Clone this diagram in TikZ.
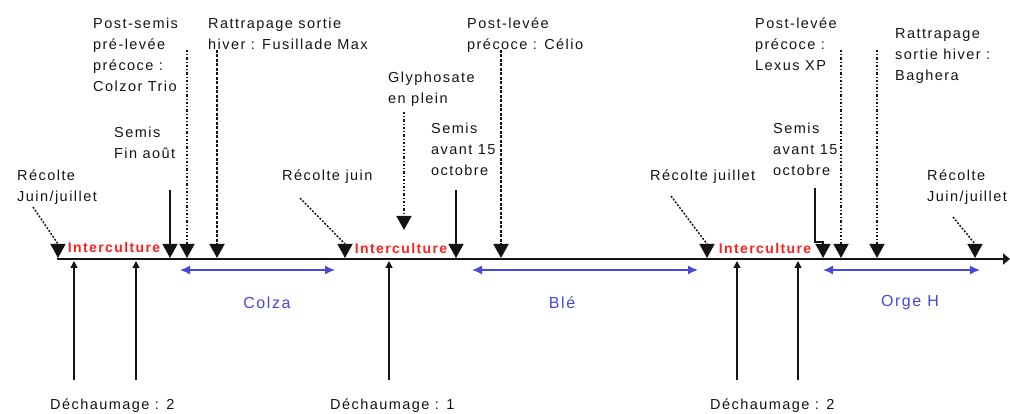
\documentclass[tikz,border=0pt]{standalone}
\usepackage{fontspec}
\setmainfont{Liberation Sans}[LetterSpace=10]
\usetikzlibrary{arrows.meta}
\definecolor{tlc}{HTML}{141414}
\definecolor{cropc}{HTML}{4848D8}
\definecolor{interc}{HTML}{FF2020}
\tikzset{
  lbl/.style={anchor=north west, inner sep=0pt, align=left, text=tlc, font=\fontsize{14.5}{21}\selectfont},
  intertxt/.style={inner sep=0pt, text=interc, font=\fontsize{14}{16}\selectfont\bfseries},
  croptxt/.style={inner sep=0pt, text=cropc, font=\fontsize{16}{18}\selectfont},
  bigtip/.style={-{Triangle[width=15pt,length=14pt]}, draw=tlc},
  solidarr/.style={bigtip, line width=1.5pt},
  dashdiag/.style={bigtip, line width=1.4pt, dash pattern=on 2pt off 1.5pt},
  dotarr/.style={bigtip, line width=1.5pt, dash pattern=on 2.4pt off 2pt on 1pt off 2pt},
  densearr/.style={bigtip, line width=2pt, dash pattern=on 3pt off 1.5pt},
  uparr/.style={-{Triangle[width=7pt,length=7pt]}, draw=tlc, line width=1.4pt},
  croparr/.style={{Latex[width=9pt,length=10pt]}-{Latex[width=9pt,length=10pt]}, draw=cropc, line width=1.5pt},
}
\begin{document}
\begin{tikzpicture}[x=1pt,y=-1pt]
\useasboundingbox (0,0) rectangle (1010,414);

% timeline
\coordinate (t0) at (57,259);
\coordinate (t1) at (1010,259);
\draw[draw=tlc, line width=2.2pt, -{Triangle[width=11pt,length=7pt]}] (t0) -- (t1);

% event points on the timeline
\coordinate (e1) at (58,258);
\coordinate (e2) at (170,258);
\coordinate (e3) at (187,258);
\coordinate (e4) at (217,258);
\coordinate (e5) at (345,258);
\coordinate (e6) at (404,230);
\coordinate (e7) at (456,258);
\coordinate (e8) at (501,258);
\coordinate (e9) at (707,258);
\coordinate (e10) at (823,258);
\coordinate (e11) at (841,258);
\coordinate (e12) at (877,258);
\coordinate (e13) at (975,258);

% upper labels
\node[lbl] (rec1) at (17,170) {Récolte\\Juin/juillet};
\node[lbl] (colzor) at (93,18) {Post-semis\\pré-levée\\précoce :\\Colzor Trio};
\node[lbl] (fusil) at (208,18) {Rattrapage sortie\\hiver : Fusillade Max};
\node[lbl] (semis1) at (114,127) {Semis\\Fin août};
\node[lbl] (rec2) at (282,170) {Récolte juin};
\node[lbl] (glypho) at (388,72) {Glyphosate\\en plein};
\node[lbl] (semis2) at (431,123) {Semis\\avant 15\\octobre};
\node[lbl] (celio) at (467,18) {Post-levée\\précoce : Célio};
\node[lbl] (rec3) at (650,170) {Récolte juillet};
\node[lbl] (semis3) at (773,123) {Semis\\avant 15\\octobre};
\node[lbl] (lexus) at (755,18) {Post-levée\\précoce :\\Lexus XP};
\node[lbl] (baghera) at (895,28) {Rattrapage\\sortie hiver :\\Baghera};
\node[lbl] (rec4) at (927,170) {Récolte\\Juin/juillet};

% line starts
\coordinate (r1s) at (33,207);
\coordinate (r1b) at (58,244);
\coordinate (s1s) at (170,190);
\coordinate (c3s) at (187,50);
\coordinate (c4s) at (217,50);
\coordinate (r2s) at (300,198);
\coordinate (r2b) at (345,244);
\coordinate (g6s) at (404,112);
\coordinate (s2s) at (456,190);
\coordinate (c8s) at (501,50);
\coordinate (r3s) at (671,196);
\coordinate (r3b) at (707,244);
\coordinate (s3s) at (815,188);
\coordinate (s3b) at (815,242);
\coordinate (c11s) at (841,50);
\coordinate (c12s) at (877,50);
\coordinate (r4s) at (953,217);
\coordinate (r4b) at (975,244);

\draw[dashdiag] (r1s) -- (r1b) -- (e1);
\draw[solidarr] (s1s) -- (e2);
\draw[dotarr] (c3s) -- (e3);
\draw[densearr] (c4s) -- (e4);
\draw[dashdiag] (r2s) -- (r2b) -- (e5);
\draw[dotarr] (g6s) -- (e6);
\draw[solidarr] (s2s) -- (e7);
\draw[densearr] (c8s) -- (e8);
\draw[dashdiag] (r3s) -- (r3b) -- (e9);
\draw[solidarr] (s3s) -- (s3b) -| (e10);
\draw[dotarr] (c11s) -- (e11);
\draw[dotarr] (c12s) -- (e12);
\draw[dashdiag] (r4s) -- (r4b) -- (e13);

% interculture
\node[intertxt] (ic1) at (114,247) {Interculture};
\node[intertxt] (ic2) at (401,248) {Interculture};
\node[intertxt] (ic3) at (765,248) {Interculture};

% crops
\coordinate (ca) at (180,270); \coordinate (cb) at (335,270);
\coordinate (ba) at (472,270); \coordinate (bb) at (698,270);
\coordinate (oa) at (823,270); \coordinate (ob) at (980,270);
\draw[croparr] (ca) -- (cb);
\draw[croparr] (ba) -- (bb);
\draw[croparr] (oa) -- (ob);
\node[croptxt] (colza) at (267,303) {Colza};
\node[croptxt] (ble) at (562,303) {Blé};
\node[croptxt] (orge) at (910,303) {Orge H};

% dechaumage
\node[lbl] (d1) at (50,399) {Déchaumage : 2};
\node[lbl] (d2) at (330,399) {Déchaumage : 1};
\node[lbl] (d3) at (710,399) {Déchaumage : 2};
\coordinate (u1s) at (74,380);  \coordinate (u1e) at (74,261);
\coordinate (u2s) at (136,380); \coordinate (u2e) at (136,261);
\coordinate (u3s) at (389,380); \coordinate (u3e) at (389,261);
\coordinate (u4s) at (737,380); \coordinate (u4e) at (737,261);
\coordinate (u5s) at (798,380); \coordinate (u5e) at (798,261);
\draw[uparr] (u1s) -- (u1e);
\draw[uparr] (u2s) -- (u2e);
\draw[uparr] (u3s) -- (u3e);
\draw[uparr] (u4s) -- (u4e);
\draw[uparr] (u5s) -- (u5e);
\end{tikzpicture}
\end{document}
